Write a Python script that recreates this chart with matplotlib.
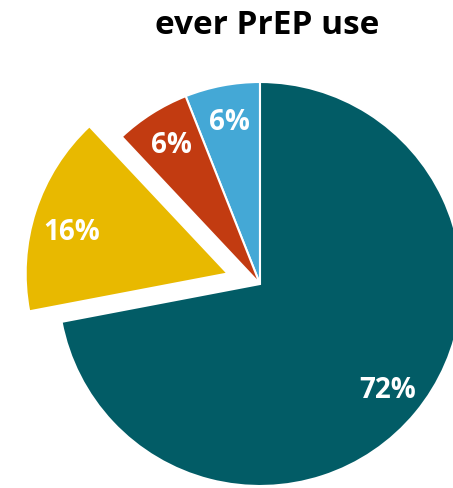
import matplotlib
matplotlib.use("Agg")
import matplotlib.pyplot as plt
import numpy as np

# slices, counter-clockwise from 12 o'clock
labels = ["blue", "red", "yellow", "teal"]
shares = [6, 6, 16, 72]
colors = ["#44A8D6", "#C23B11", "#E8B900", "#025C66"]
explode = [0, 0, 0.17, 0]

plt.rcParams['font.family'] = ['Open Sans', 'DejaVu Sans']

fig = plt.figure(figsize=(4.53, 4.89), dpi=100)
ax = fig.add_axes([0, 0, 1, 1])

wedges, texts, autotexts = ax.pie(
    shares, colors=colors, explode=explode, startangle=90,
    counterclock=True, radius=1.01, autopct="%d%%", pctdistance=0.82,
    wedgeprops=dict(edgecolor="white", linewidth=1.5),
    textprops=dict(color="white", fontsize=20, fontweight="bold"))

# nudge the exploded slice's label a little lower, as in the original
w = wedges[2]
ang = np.deg2rad((w.theta1 + w.theta2) / 2 + 3)
autotexts[2].set_position((w.center[0] + 0.8 * w.r * np.cos(ang),
                           w.center[1] + 0.8 * w.r * np.sin(ang)))

# pixel-matched view: centre at (260, 285) px, 200 px per unit
ax.set_xlim(-260 / 200, (453 - 260) / 200)
ax.set_ylim(-(489 - 285) / 200, 285 / 200)
ax.set_aspect("auto")
ax.axis("off")

fig.text(0.59, 0.947, "ever PrEP use", ha="center", va="center",
         fontsize=24, fontweight="bold", color="black")

fig.savefig("out.png", dpi=100)
